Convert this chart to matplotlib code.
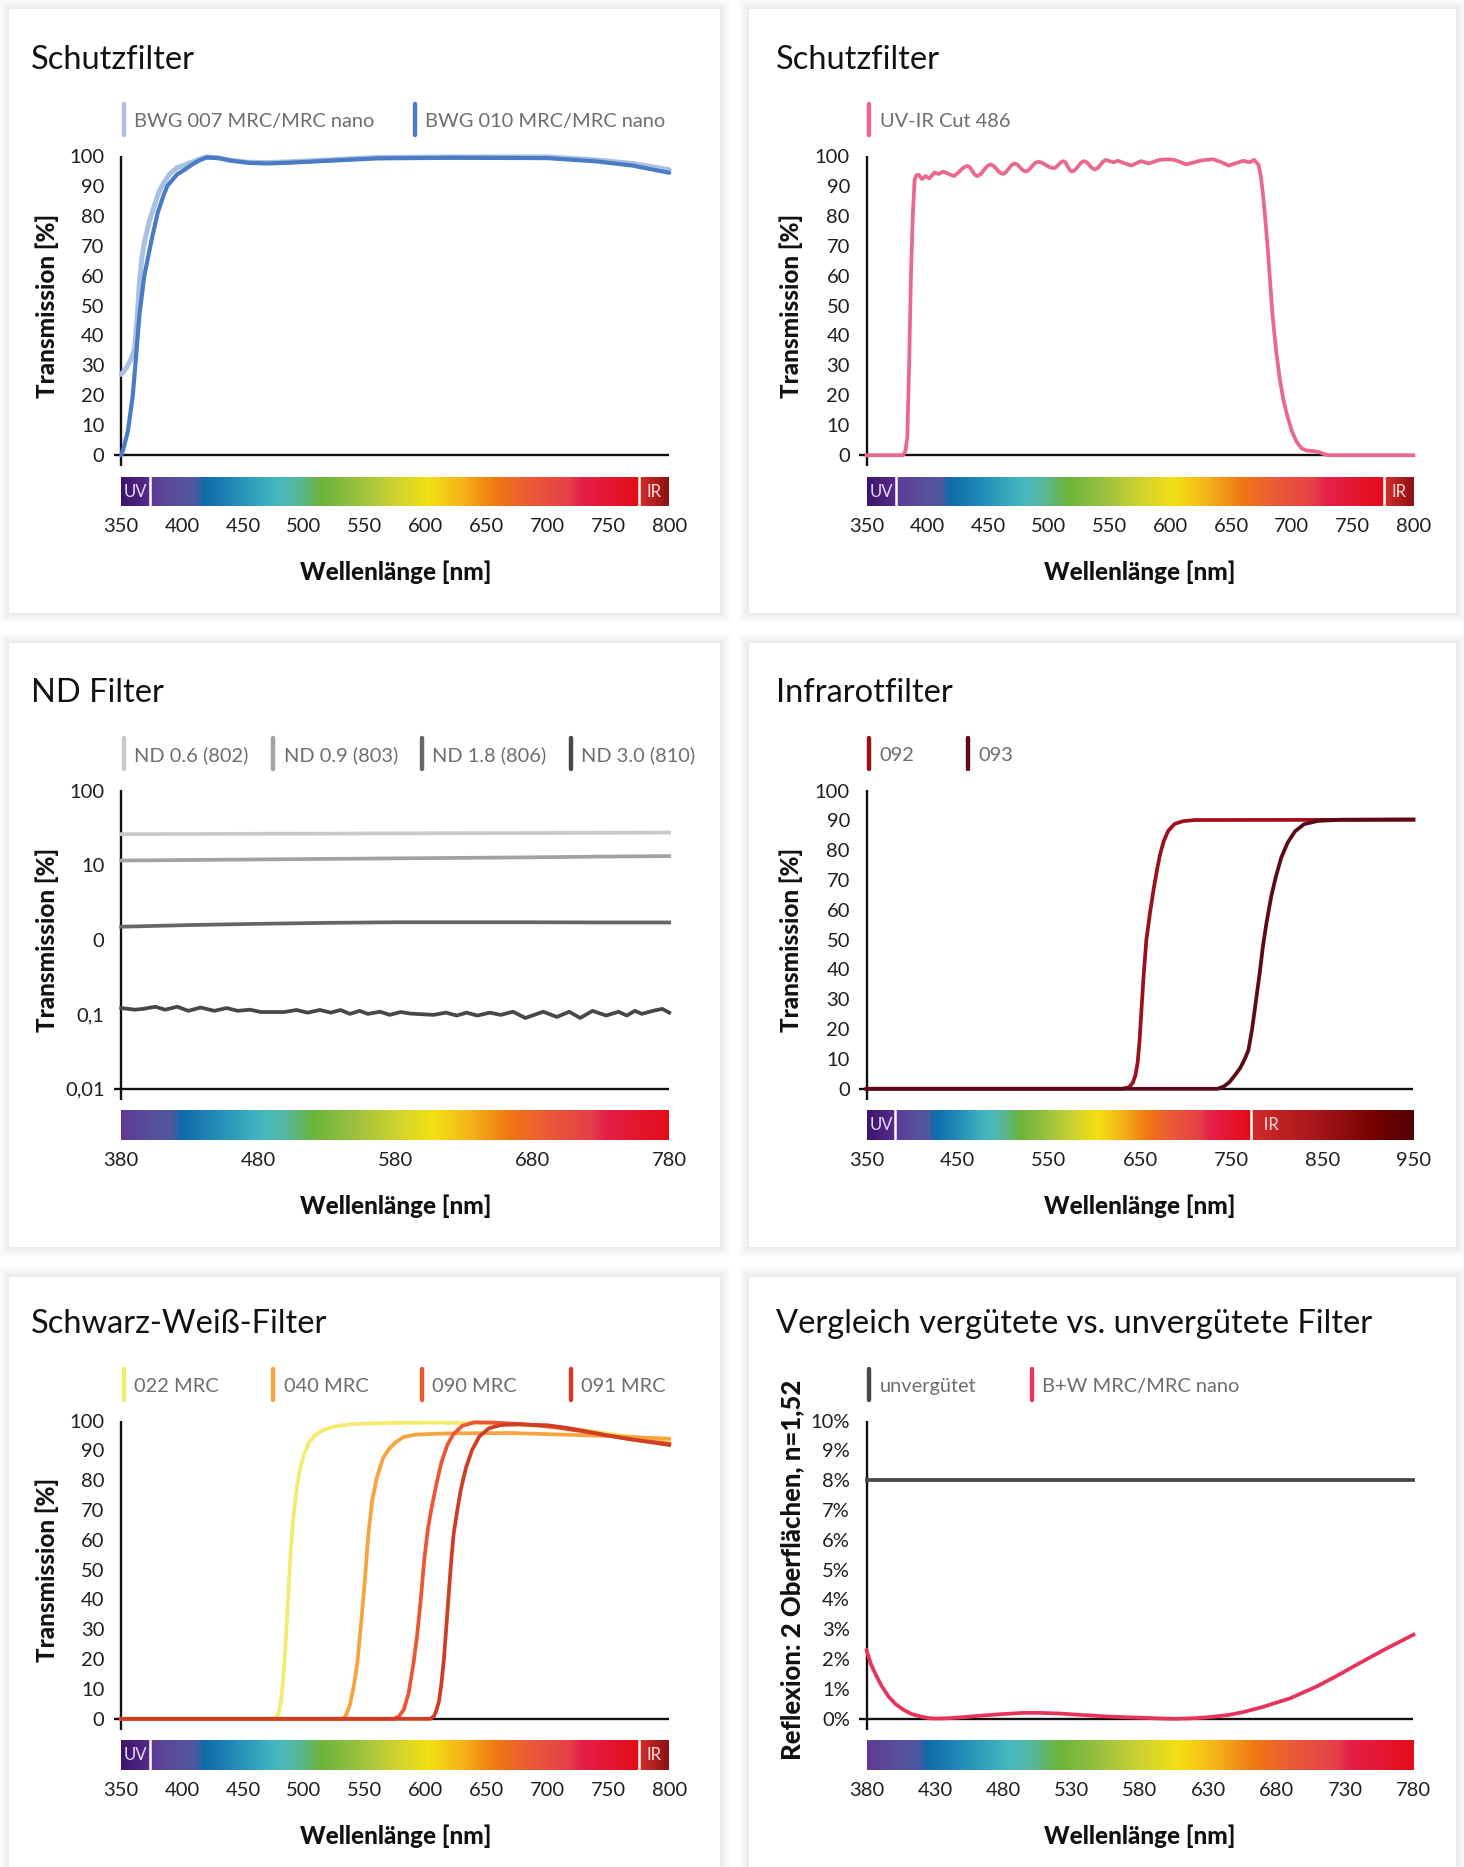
import numpy as np
import matplotlib
matplotlib.use('Agg')
import matplotlib.pyplot as plt
from matplotlib.colors import LinearSegmentedColormap
from matplotlib.patches import Rectangle
from matplotlib.lines import Line2D

W, H, DPI = 1464, 1867, 100
plt.rcParams['font.family'] = ['Lato', 'DejaVu Sans']

# ---------------- DATA ----------------
# Panel 1: Schutzfilter (BWG)
bwg007_label = "BWG 007 MRC/MRC nano"
bwg007_x = [350, 354, 358, 361, 363, 365, 367, 369, 373, 377, 381, 385, 390, 396, 404, 412, 420, 428, 440, 455, 470, 490, 520, 560, 620, 700, 740, 770, 800]
bwg007_y = [27, 29, 32, 35.5, 45, 58, 66, 71, 78, 83, 88, 91, 94, 96, 97.2, 98.5, 99.6, 99.4, 98.4, 97.8, 97.7, 98, 98.6, 99.4, 99.6, 99.6, 98.6, 97.4, 95.3]
bwg010_label = "BWG 010 MRC/MRC nano"
bwg010_x = [350, 352, 355.5, 359.5, 362, 365, 369, 375, 380, 385, 388, 396, 402, 408, 414, 420, 430, 440, 455, 470, 490, 520, 560, 620, 700, 740, 770, 800]
bwg010_y = [0, 2.5, 8, 20, 32, 47, 60, 72, 81, 87, 90, 93.8, 95.3, 97, 98.4, 99.4, 99.2, 98.4, 97.6, 97.4, 97.7, 98.3, 99.1, 99.3, 99.2, 98.1, 96.7, 94.3]

# Panel 2: UV-IR Cut 486
uvir_label = "UV-IR Cut 486"
uvir_x = [350, 380, 382, 383.5, 385, 386.5, 388, 389.5, 391, 393, 395.6, 398.5, 401.5, 405.9, 409.4, 413.2, 417.6, 422, 425, 428, 430.5, 433,
          435, 437, 439, 441, 443.8, 446.5, 449.2, 452, 454.5, 457, 459.5, 462, 464.5, 467, 469.5, 472,
          474.2, 476.5, 478.8, 481, 483.5, 486, 488.5, 491, 494.2, 497.5, 500.8, 504, 506, 508, 510, 512,
          513.8, 515.5, 517.2, 519, 521.5, 524, 526.5, 529, 531.2, 533.5, 535.8, 538, 540.2, 542.5, 544.8, 547,
          553, 557, 562, 568, 572, 576, 579, 582, 586.5, 591, 597, 603, 608, 613, 618, 623, 629, 635, 641, 648,
          654, 660, 665, 669, 672.5, 674.5, 676.5, 678.5, 680.5, 684, 687, 690, 693, 696, 700, 704, 708, 712,
          718, 722, 726, 730, 800]
uvir_y = [0, 0, 1.5, 6, 30, 60, 80, 92, 93.5, 93.6, 92.2, 93.2, 92.4, 94.4, 93.9, 94.7, 93.9, 93.2, 94.2, 95.4, 96.2, 96.6,
          96.1, 94.9, 93.7, 93.2, 93.8, 95.2, 96.5, 97.1, 96.6, 95.5, 94.4, 93.9, 94.4, 95.7, 96.9, 97.4,
          97.0, 96.0, 95.1, 94.7, 95.2, 96.4, 97.5, 98.0, 97.7, 96.9, 96.1, 95.8, 96.2, 97.0, 97.8, 98.2,
          97.7, 96.4, 95.2, 94.7, 95.2, 96.4, 97.7, 98.2, 97.8, 96.8, 95.8, 95.4, 95.9, 97.0, 98.1, 98.6,
          97.8, 98.3, 97.5, 96.7, 97.5, 98.2, 97.8, 97.4, 98.0, 98.6, 98.8, 98.6, 97.9, 97.1, 97.6, 98.2, 98.6, 98.8, 98.0, 96.7,
          97.5, 98.3, 97.8, 98.6, 97, 93, 86, 77, 67, 47, 35, 25.5, 18.5, 13.5, 8, 4.4, 2.3, 1.6,
          1.4, 1.1, 0.5, 0, 0]

# Panel 3: ND filters (log scale)
nd_x = [380, 430, 480, 530, 580, 630, 680, 730, 780]
nd06_label = "ND 0.6 (802)"
nd06_y = [26.0, 26.1, 26.3, 26.4, 26.6, 26.8, 26.9, 27.1, 27.3]
nd09_label = "ND 0.9 (803)"
nd09_y = [11.5, 11.7, 11.9, 12.1, 12.3, 12.5, 12.7, 13.0, 13.2]
nd18_label = "ND 1.8 (806)"
nd18_y = [1.49, 1.57, 1.63, 1.68, 1.71, 1.71, 1.71, 1.70, 1.70]
nd30_label = "ND 3.0 (810)"
nd30_x = [380, 390, 396, 405, 412, 421, 429, 438, 448, 457, 465, 474, 482, 499, 508, 516, 525, 533, 540, 547,
          554, 560, 569, 576, 584, 591, 608, 617, 625, 632, 640, 649, 657, 666, 675, 688, 698, 707, 715, 724,
          734, 743, 749, 755, 760, 768, 775, 780]
nd30_y = [0.121, 0.115, 0.118, 0.126, 0.115, 0.126, 0.111, 0.123, 0.111, 0.121, 0.111, 0.115, 0.107, 0.107, 0.114, 0.105, 0.114, 0.105, 0.114, 0.101,
          0.111, 0.101, 0.108, 0.098, 0.107, 0.102, 0.098, 0.105, 0.096, 0.105, 0.096, 0.105, 0.098, 0.108, 0.089, 0.108, 0.092, 0.108, 0.089, 0.111,
          0.096, 0.108, 0.096, 0.111, 0.101, 0.111, 0.118, 0.105]

# Panel 4: Infrarotfilter
ir092_label = "092"
ir092_x = [350, 630, 638, 642, 645, 647.5, 649.5, 651.5, 654, 657, 661, 665, 669, 672, 676, 681, 688, 697, 710, 950]
ir092_y = [0, 0, 0.5, 2, 4.5, 9, 16, 26, 38, 50, 59, 67, 74, 78.5, 83, 86.5, 88.8, 89.7, 90.1, 90.2]
ir093_label = "093"
ir093_x = [350, 735, 742, 748, 754, 760, 765, 769, 773, 777, 781, 785, 789, 794, 799, 805, 812, 820, 830, 845, 870, 950]
ir093_y = [0, 0, 0.8, 2.2, 4.5, 7, 10, 13, 20, 29, 38, 48, 56, 64.5, 71, 77.5, 82.5, 86.3, 88.7, 89.8, 90.2, 90.3]

# Panel 5: Schwarz-Weiss-Filter
sw022_label = "022 MRC"
sw022_x = [350, 476, 479, 481, 483, 485, 487, 489, 491, 494, 497, 500, 504, 509, 516, 525, 540, 570, 610, 650, 690, 730, 765, 800]
sw022_y = [0, 0, 1.5, 5, 13, 25, 40, 55, 66, 77, 84, 88.5, 92.5, 95, 96.8, 98, 98.8, 99.2, 99.3, 99, 98.3, 96.8, 94.8, 93]
sw040_label = "040 MRC"
sw040_x = [350, 532, 535, 538, 541, 544, 547, 550, 553, 556, 560, 565, 570, 575, 582, 592, 620, 670, 710, 750, 800]
sw040_y = [0, 0, 1.5, 5, 11, 19, 32, 46, 62, 73, 81, 87.4, 90.5, 92.6, 94.5, 95.3, 95.7, 95.8, 95.3, 94.8, 93.9]
sw090_label = "090 MRC"
sw090_x = [350, 574, 578, 582, 586, 590, 593, 596, 599, 602, 605, 609, 613, 618, 623, 630, 640, 655, 680, 705, 725, 745, 770, 800]
sw090_y = [0, 0, 0.8, 3, 8.5, 18.6, 28, 40, 54, 64, 71, 79, 86, 92, 95.5, 98.2, 99.4, 99.3, 98.8, 97.8, 96.6, 95.2, 93.6, 92.2]
sw091_label = "091 MRC"
sw091_x = [350, 604, 607, 609, 611, 613, 615, 617, 619, 621, 623, 626, 629, 633, 638, 644, 652, 662, 675, 700, 715, 730, 750, 770, 800]
sw091_y = [0, 0, 1, 3, 6, 12, 20, 31, 42, 53, 62, 70, 77, 84, 90, 94.6, 97.4, 98.5, 98.7, 98.4, 97.6, 96.5, 95, 93.6, 91.8]

# Panel 6: Reflexion
unv_label = "unvergütet"
unv_x = [380, 780]
unv_y = [8, 8]
bw_label = "B+W MRC/MRC nano"
bw_x = [380, 383, 387, 391, 396, 401, 407, 413, 420, 426, 432, 440, 452, 465, 480, 495, 505, 520, 537, 555, 571, 590, 605, 620, 632, 645, 656, 670, 690, 710, 724, 740, 758, 780]
bw_y = [2.3, 1.85, 1.45, 1.1, 0.75, 0.5, 0.3, 0.16, 0.07, 0.02, 0.01, 0.02, 0.06, 0.11, 0.16, 0.2, 0.2, 0.18, 0.13, 0.08, 0.05, 0.02, 0.0, 0.02, 0.06, 0.13, 0.23, 0.4, 0.69, 1.1, 1.44, 1.85, 2.3, 2.82]

titles = ["Schutzfilter", "Schutzfilter", "ND Filter", "Infrarotfilter", "Schwarz-Weiß-Filter", "Vergleich vergütete vs. unvergütete Filter"]
ticks_350_800 = [350, 400, 450, 500, 550, 600, 650, 700, 750, 800]
ticks_nd = [380, 480, 580, 680, 780]
ticks_ir = [350, 450, 550, 650, 750, 850, 950]
ticks_refl = [380, 430, 480, 530, 580, 630, 680, 730, 780]
yticks_pct = [0, 10, 20, 30, 40, 50, 60, 70, 80, 90, 100]
yticks_nd = [0.01, 0.1, 1, 10, 100]
ylabels_nd = ["0,01", "0,1", "0", "10", "100"]
yticks_refl = list(range(0, 11))
ylabels_refl = [f"{v}%" for v in yticks_refl]

# ---------------- STYLE / LAYOUT ----------------
fig = plt.figure(figsize=(W / DPI, H / DPI), dpi=DPI)
fig.patch.set_facecolor('white')

def fx(x):
    return x / W

def fy(y):
    return 1 - y / H

panels = [(9, 9, 720, 613), (749, 9, 1456, 613),
          (9, 643, 720, 1247), (749, 643, 1456, 1247),
          (9, 1277, 720, 1900), (749, 1277, 1456, 1900)]
for (x0, y0, x1, y1) in panels:
    for k in range(10, 0, -1):
        fig.add_artist(Rectangle((fx(x0 - k), fy(y1 + k)), (x1 - x0 + 2 * k) / W, (y1 - y0 + 2 * k) / H,
                                 transform=fig.transFigure, facecolor='black', alpha=0.007,
                                 edgecolor='none', zorder=-20))
    fig.add_artist(Rectangle((fx(x0), fy(y1)), (x1 - x0) / W, (y1 - y0) / H, transform=fig.transFigure,
                             facecolor='white', edgecolor='none', zorder=-19))

cols = [(121.2, 669.2), (866.6, 1413.4)]
col_title_x = [31, 776]
col_ylabel_x = [47.5, 791.7]
rows_ax = [(155.7, 455.3), (790.5, 1088.8), (1420.5, 1718.8)]
rows_bar = [(476.7, 506.4), (1110.2, 1140.0), (1740.3, 1770.0)]
rows_title = [69, 702, 1333]
rows_leg = [121.5, 755, 1386]
rows_xlabel = [572.5, 1206.5, 1836.5]

spec_stops = [(0.0, '#5f3b95'), (0.06, '#55519d'), (0.092, '#5058a0'), (0.108, '#0f6aab'),
              (0.18, '#2590b8'), (0.26, '#46b9c0'), (0.30, '#55b8a0'), (0.35, '#6cb43a'),
              (0.42, '#96c040'), (0.50, '#cdd230'), (0.57, '#f3e014'), (0.64, '#f5b21a'),
              (0.71, '#ef7812'), (0.78, '#ea5a38'), (0.86, '#e63e48'), (0.885, '#e4204a'),
              (1.0, '#e40c18')]
vis_cmap = LinearSegmentedColormap.from_list('vis', spec_stops)
uv_cmap = LinearSegmentedColormap.from_list('uv', ['#3a1668', '#5a2b8e'])
ir_cmap1 = LinearSegmentedColormap.from_list('ir1', ['#d82c2c', '#8c1212'])
ir_cmap2 = LinearSegmentedColormap.from_list('ir2', [(0, '#d42a2a'), (0.45, '#a01418'), (0.75, '#780000'), (1, '#520006')])
grad = np.linspace(0, 1, 512)[None, :]

TICK_C = '#1e1e1e'
LABEL_FS = 17.5


def make_axes(col, row, xlim, ylim, xticks, yticks, ylabels, ylabel, log=False, segs=None, ir_cmap=None,
              ylabel_fs=LABEL_FS, ir_center=True):
    xl, xr = cols[col]
    yt, yb = rows_ax[row]
    ax = fig.add_axes([fx(xl), fy(yb), (xr - xl) / W, (yb - yt) / H])
    ax.set_facecolor('none')
    if log:
        ax.set_yscale('log')
    ax.set_xlim(*xlim)
    ax.set_ylim(*ylim)
    for s in ax.spines.values():
        s.set_visible(False)
    ax.set_xticks([])
    ax.set_yticks(yticks)
    ax.set_yticklabels(ylabels)
    ax.minorticks_off()
    ax.tick_params(axis='y', length=0, pad=12, labelsize=14.5, labelcolor=TICK_C)
    ax.plot([0, 0], [-0.037, 1], transform=ax.transAxes, color='#111111', lw=1.7,
            clip_on=False, zorder=2, solid_capstyle='butt')
    ax.plot([-0.013, 1], [0, 0], transform=ax.transAxes, color='#111111', lw=1.7,
            clip_on=False, zorder=2, solid_capstyle='butt')
    fig.text(fx(col_ylabel_x[col]), fy((yt + yb) / 2), ylabel, rotation=90, fontsize=ylabel_fs,
             fontweight='black', color='#111111', ha='center', va='center')
    # spectrum bar
    bt, bb = rows_bar[row]
    axb = fig.add_axes([fx(xl), fy(bb), (xr - xl) / W, (bb - bt) / H])
    for s in axb.spines.values():
        s.set_visible(False)
    if segs is None:
        axb.imshow(grad, cmap=vis_cmap, extent=(xlim[0], xlim[1], 0, 1), aspect='auto', interpolation='bilinear')
    else:
        uv_end, ir_start = segs
        axb.imshow(grad, cmap=uv_cmap, extent=(xlim[0], uv_end, 0, 1), aspect='auto', interpolation='bilinear')
        axb.imshow(grad, cmap=vis_cmap, extent=(uv_end, ir_start, 0, 1), aspect='auto', interpolation='bilinear')
        axb.imshow(grad, cmap=ir_cmap, extent=(ir_start, xlim[1], 0, 1), aspect='auto', interpolation='bilinear')
        for b in (uv_end, ir_start):
            axb.axvline(b, color='white', lw=1.8, zorder=5)
        axb.text((xlim[0] + uv_end) / 2, 0.5, "UV", color='#e2daf2', fontsize=12, va='center', ha='center', zorder=6)
        if ir_center:
            axb.text((ir_start + xlim[1]) / 2, 0.5, "IR", color='#f4dada', fontsize=12, va='center', ha='center', zorder=6)
        else:
            axb.text(ir_start, 0.5, "   IR", color='#f4dada', fontsize=12, va='center', ha='left', zorder=6)
    axb.set_xlim(*xlim)
    axb.set_ylim(0, 1)
    axb.set_yticks([])
    axb.set_xticks(xticks)
    axb.set_xticklabels([str(t) for t in xticks])
    axb.tick_params(axis='x', length=0, pad=8.5, labelsize=14.5, labelcolor=TICK_C)
    fig.text(fx((xl + xr) / 2), fy(rows_xlabel[row]), "Wellenlänge [nm]", fontsize=LABEL_FS, fontweight='black',
             color='#111111', ha='center', va='center')
    fig.text(fx(col_title_x[col]), fy(rows_title[row]), titles[row * 2 + col], fontsize=23.5,
             color='#111111', ha='left', va='baseline')
    return ax


def legend(col, row, items, xs):
    yc = rows_leg[row]
    for (label, color), x in zip(items, xs):
        fig.add_artist(Line2D([fx(x), fx(x)], [fy(yc - 17), fy(yc + 14)], transform=fig.transFigure,
                              color=color, lw=3.2, solid_capstyle='round'))
        fig.text(fx(x + 10.5), fy(yc), label, fontsize=14.4, color='#6d6d6d', va='center', ha='left')


LW = 2.7
pct_labels = [str(v) for v in yticks_pct]

# Panel 1
c007, c010 = '#a9bfe4', '#4a7bc5'
ax1 = make_axes(0, 0, (350, 800), (0, 100), ticks_350_800, yticks_pct, pct_labels, "Transmission [%]",
                segs=(374, 775.5), ir_cmap=ir_cmap1)
ax1.plot(bwg007_x, bwg007_y, color=c007, lw=3.6, zorder=3, clip_on=False, solid_capstyle='round')
ax1.plot(bwg010_x, bwg010_y, color=c010, lw=3.0, zorder=4, clip_on=False, solid_capstyle='round')
legend(0, 0, [(bwg007_label, c007), (bwg010_label, c010)], [123.6, 414.9])

# Panel 2
cuv = '#e9688b'
ax2 = make_axes(1, 0, (350, 800), (0, 100), ticks_350_800, yticks_pct, pct_labels, "Transmission [%]",
                segs=(374, 775.5), ir_cmap=ir_cmap1)
ax2.plot(uvir_x, uvir_y, color=cuv, lw=LW, zorder=3, clip_on=False, solid_joinstyle='round')
legend(1, 0, [(uvir_label, cuv)], [869])

# Panel 3
cnd = ['#c9c9cd', '#a2a2a6', '#67676b', '#48484c']
ax3 = make_axes(0, 1, (380, 780), (0.01, 100), ticks_nd, yticks_nd, ylabels_nd, "Transmission [%]", log=True)
ax3.plot(nd_x, nd06_y, color=cnd[0], lw=LW, zorder=3, clip_on=False)
ax3.plot(nd_x, nd09_y, color=cnd[1], lw=LW, zorder=3, clip_on=False)
ax3.plot(nd_x, nd18_y, color=cnd[2], lw=LW, zorder=3, clip_on=False)
ax3.plot(nd30_x, nd30_y, color=cnd[3], lw=LW, zorder=3, clip_on=False, solid_joinstyle='round')
legend(0, 1, [(nd06_label, cnd[0]), (nd09_label, cnd[1]), (nd18_label, cnd[2]), (nd30_label, cnd[3])],
       [123.6, 273.4, 422, 570.6])

# Panel 4
c092, c093 = '#9e0f1e', '#5c0a14'
ax4 = make_axes(1, 1, (350, 950), (0, 100), ticks_ir, yticks_pct, pct_labels, "Transmission [%]",
                segs=(381.5, 771.5), ir_cmap=ir_cmap2, ir_center=False)
ax4.plot(ir092_x, ir092_y, color=c092, lw=LW, zorder=3, clip_on=False)
ax4.plot(ir093_x, ir093_y, color=c093, lw=LW, zorder=4, clip_on=False)
legend(1, 1, [(ir092_label, c092), (ir093_label, c093)], [869, 967.6])

# Panel 5
csw = ['#f4ea70', '#f7a33e', '#ee5532', '#cf3e22']
ax5 = make_axes(0, 2, (350, 800), (0, 100), ticks_350_800, yticks_pct, pct_labels, "Transmission [%]",
                segs=(374, 775.5), ir_cmap=ir_cmap1)
ax5.plot(sw022_x, sw022_y, color=csw[0], lw=LW, zorder=3, clip_on=False)
ax5.plot(sw040_x, sw040_y, color=csw[1], lw=LW, zorder=3, clip_on=False)
ax5.plot(sw090_x, sw090_y, color=csw[2], lw=LW, zorder=3, clip_on=False)
ax5.plot(sw091_x, sw091_y, color=csw[3], lw=LW, zorder=3, clip_on=False)
legend(0, 2, [(sw022_label, csw[0]), (sw040_label, csw[1]), (sw090_label, csw[2]), (sw091_label, csw[3])],
       [123.6, 273.4, 422, 570.6])

# Panel 6
cunv, cbw = '#48484c', '#e8345c'
ax6 = make_axes(1, 2, (380, 780), (0, 10), ticks_refl, yticks_refl, ylabels_refl,
                "Reflexion: 2 Oberflächen, n=1,52", ylabel_fs=18.5)
ax6.plot(unv_x, unv_y, color=cunv, lw=LW, zorder=3, clip_on=False)
ax6.plot(bw_x, bw_y, color=cbw, lw=LW, zorder=3, clip_on=False)
legend(1, 2, [(unv_label, cunv), (bw_label, cbw)], [869, 1031.8])

fig.savefig('out.png', dpi=DPI, facecolor='white')
